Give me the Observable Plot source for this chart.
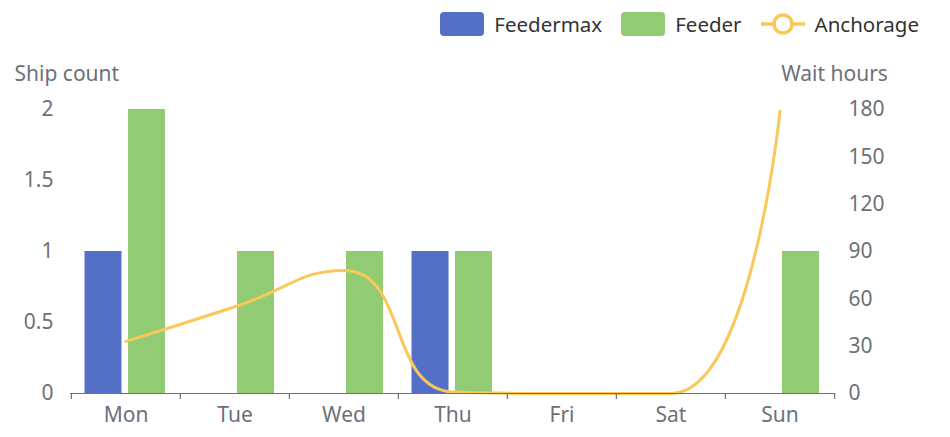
<!DOCTYPE html>
<html>
<head>
<meta charset="utf-8">
<script src="https://cdn.jsdelivr.net/npm/d3@7"></script>
<script src="https://cdn.jsdelivr.net/npm/@observablehq/plot@0.6"></script>
<style>
  html, body { margin: 0; padding: 0; background: #fff; }
  body { width: 950px; height: 437px; overflow: hidden; font-family: "Noto Sans", sans-serif; }
  #legend { height: 48px; display: flex; align-items: center; justify-content: flex-end; padding-right: 31px; box-sizing: border-box; font-size: 20.5px; color: #333; }
  .item { display: flex; align-items: center; margin-left: 19px; }
  .sw { width: 44px; height: 24px; border-radius: 4px; margin-right: 10px; }
  svg { display: block; }
</style>
</head>
<body>
<div id="legend"></div>
<div id="chart"></div>
<script>
const days = ["Mon", "Tue", "Wed", "Thu", "Fri", "Sat", "Sun"];
const feedermax = [1, 0, 0, 1, 0, 0, 0];
const feeder = [2, 1, 1, 1, 0, 0, 1];
const anchorage = [33, 55, 78, 1, 0, 0, 179];
const leftTicks = [0, 0.5, 1, 1.5, 2];
const rightTicks = [0, 30, 60, 90, 120, 150, 180];
const seriesNames = ["Feedermax", "Feeder", "Anchorage"];
const colors = ["#5470c6", "#91cc75", "#fac858"];

const W = 950, H = 389, mL = 70, mR = 115, mT = 61, mB = 44;
const bw = (W - mL - mR) / days.length;
const ratio = 90; // right axis units per left axis unit
const gray = "#6e7079";
const FS = 21;

// ECharts-style smooth line (smooth = 0.5, with extreme constraints)
function SmoothCurve(context) { this._context = context; }
SmoothCurve.prototype = {
  areaStart() { this._line = 0; },
  areaEnd() { this._line = NaN; },
  lineStart() { this._pts = []; },
  point(x, y) { this._pts.push([+x, +y]); },
  lineEnd() {
    const p = this._pts, ctx = this._context, s = 0.5, n = p.length;
    if (!n) return;
    let cpx0, cpy0, cpx1, cpy1, prevX, prevY;
    for (let k = 0; k < n; k++) {
      const [x, y] = p[k];
      if (k === 0) { ctx.moveTo(x, y); cpx0 = x; cpy0 = y; }
      else {
        let nextCpx0, nextCpy0;
        if (k === n - 1) { cpx1 = x; cpy1 = y; }
        else {
          const [nextX, nextY] = p[k + 1];
          let vx = nextX - prevX, vy = nextY - prevY;
          const dx0 = x - prevX, dx1 = nextX - x, dy0 = y - prevY, dy1 = nextY - y;
          const lenPrev = Math.hypot(dx0, dy0), lenNext = Math.hypot(dx1, dy1);
          const r = lenNext / (lenNext + lenPrev);
          nextCpx0 = x + vx * s * r; nextCpy0 = y + vy * s * r;
          nextCpx0 = Math.max(Math.min(nextCpx0, Math.max(nextX, x)), Math.min(nextX, x));
          nextCpy0 = Math.max(Math.min(nextCpy0, Math.max(nextY, y)), Math.min(nextY, y));
          vx = nextCpx0 - x; vy = nextCpy0 - y;
          cpx1 = x - vx * lenPrev / lenNext; cpy1 = y - vy * lenPrev / lenNext;
          cpx1 = Math.max(Math.min(cpx1, Math.max(prevX, x)), Math.min(prevX, x));
          cpy1 = Math.max(Math.min(cpy1, Math.max(prevY, y)), Math.min(prevY, y));
          vx = x - cpx1; vy = y - cpy1;
          nextCpx0 = x + vx * lenNext / lenPrev; nextCpy0 = y + vy * lenNext / lenPrev;
        }
        ctx.bezierCurveTo(cpx0, cpy0, cpx1, cpy1, x, y);
        cpx0 = nextCpx0; cpy0 = nextCpy0;
      }
      prevX = x; prevY = y;
    }
  }
};
const smoothCurve = ctx => new SmoothCurve(ctx);

// legend
const lg = document.getElementById("legend");
seriesNames.forEach((name, i) => {
  const it = document.createElement("div");
  it.className = "item";
  if (i < 2) {
    it.innerHTML = `<div class="sw" style="background:${colors[i]}"></div><span>${name}</span>`;
  } else {
    it.innerHTML = `<svg width="44" height="26" style="margin-right:10px"><line x1="0" y1="13" x2="44" y2="13" stroke="${colors[i]}" stroke-width="3.5"/><circle cx="22" cy="13" r="9" fill="#fff" stroke="${colors[i]}" stroke-width="3.5"/></svg><span>${name}</span>`;
  }
  lg.appendChild(it);
});

const chart = Plot.plot({
  width: W, height: H,
  marginLeft: mL, marginRight: mR, marginTop: mT, marginBottom: mB,
  style: { fontFamily: "Noto Sans, sans-serif", fontSize: FS + "px", color: gray, background: "transparent" },
  x: { type: "band", domain: days, padding: 0 },
  y: { domain: [0, 2] },
  marks: [
    Plot.barY(days, { x: d => d, y: (d, i) => feedermax[i], fill: colors[0], insetLeft: 13.5, insetRight: 58.5 }),
    Plot.barY(days, { x: d => d, y: (d, i) => feeder[i], fill: colors[1], insetLeft: 57, insetRight: 15 }),
    Plot.line(days, { x: d => d, y: (d, i) => anchorage[i] / ratio, curve: smoothCurve, stroke: colors[2], strokeWidth: 3 }),
    Plot.ruleY([0], { stroke: gray, strokeWidth: 1.2 }),
    Plot.ruleX(days, { x: d => d, dx: -bw / 2, y1: 0, y2: 0, insetBottom: -6, stroke: gray, strokeWidth: 1.2 }),
    Plot.ruleX(days.slice(-1), { x: d => d, dx: bw / 2, y1: 0, y2: 0, insetBottom: -6, stroke: gray, strokeWidth: 1.2 }),
    Plot.axisX({ tickSize: 0, tickPadding: 14, label: null, fill: gray, fontSize: FS }),
    Plot.axisY({ anchor: "left", ticks: leftTicks, tickSize: 0, tickPadding: 17, label: null, fill: gray, fontSize: FS, tickFormat: d => String(d) }),
    Plot.axisY({ anchor: "right", ticks: rightTicks.map(v => v / ratio), tickSize: 0, tickPadding: 13, label: null, fill: gray, fontSize: FS, tickFormat: d => String(Math.round(d * ratio)) }),
    Plot.text(["Ship count"], { text: d => d, frameAnchor: "top-left", dx: -56, dy: -43, textAnchor: "start", fill: gray, fontSize: FS }),
    Plot.text(["Wait hours"], { text: d => d, frameAnchor: "top-right", dx: -1, dy: -43, textAnchor: "middle", fill: gray, fontSize: FS })
  ]
});
document.getElementById("chart").appendChild(chart);
</script>
</body>
</html>
